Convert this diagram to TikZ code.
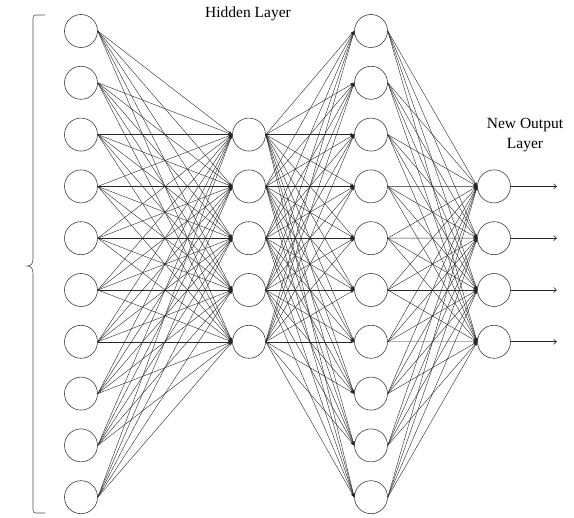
\documentclass[tikz,border=0pt]{standalone}
\usepackage{fontspec}
\setmainfont{Liberation Serif}
\usetikzlibrary{arrows.meta}
\begin{document}
\begin{tikzpicture}[x=1pt,y=-1pt,
  neuron/.style={circle,draw=black!75,line width=0.6pt,minimum size=33pt,inner sep=0pt,fill=white},
  conn/.style={line width=0.4pt,draw=black!85,-{Stealth[length=4pt,width=3pt]}},
  outarr/.style={line width=0.6pt,draw=black!85,-{Straight Barb[length=3pt,width=5pt]}},
  lbl/.style={font=\fontsize{15.5}{20}\selectfont,align=center,inner sep=0pt}]
\useasboundingbox (0,0) rectangle (574,518);
% nodes
\foreach \i in {1,...,10} \node[neuron] (a\i) at (81,{31+51.8*(\i-1)}) {};
\foreach \i in {1,...,5} \node[neuron] (b\i) at (249,{134.6+51.8*(\i-1)}) {};
\foreach \i in {1,...,10} \node[neuron] (c\i) at (371,{31+51.8*(\i-1)}) {};
\foreach \i in {1,...,4} \node[neuron] (d\i) at (494,{186.4+51.8*(\i-1)}) {};
% connections
\foreach \i in {1,...,10} \foreach \j in {1,...,5} \draw[conn] (a\i.east) -- (b\j.west);
\foreach \i in {1,...,5} \foreach \j in {1,...,10} \draw[conn] (b\i.east) -- (c\j.west);
\foreach \i in {1,...,10} \foreach \j in {1,...,4} \draw[conn] (c\i.east) -- (d\j.west);
% outputs
\foreach \i in {1,...,4} {
  \coordinate (o\i) at (557,{186.4+51.8*(\i-1)});
  \draw[outarr] (d\i.east) -- (o\i);
}
% labels
\node[lbl] (hl) at (248,14) {Hidden Layer};
\node[lbl] (ol) at (525,135) {New Output\\Layer};
% brace
\draw[line width=0.6pt,black!70]
  (45,15) -- (36,15) .. controls (34,15) and (33,16) .. (33,18) -- (33,258)
  .. controls (33,264) and (31,266) .. (27,266)
  .. controls (31,266) and (33,268) .. (33,274) -- (33,510)
  .. controls (33,512) and (34,513) .. (36,513) -- (45,513);
\end{tikzpicture}
\end{document}
